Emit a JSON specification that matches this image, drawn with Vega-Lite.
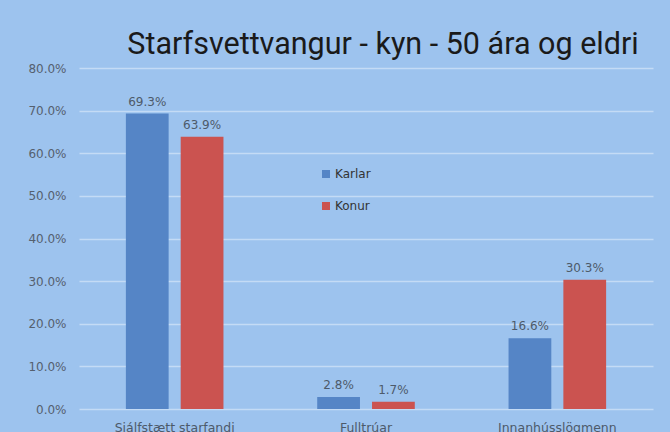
{
  "$schema": "https://vega.github.io/schema/vega-lite/v6.json",
  "width": 574,
  "height": 341,
  "autosize": {"type": "none"},
  "padding": {"left": 79, "top": 68, "right": 17, "bottom": 23},
  "background": "#9DC3EE",
  "title": {
    "text": "Starfsvettvangur - kyn - 50 ára og eldri",
    "font": "Roboto",
    "fontSize": 30.5,
    "fontWeight": "normal",
    "color": "#1a1a1a",
    "anchor": "middle",
    "dx": 17,
    "offset": 2
  },
  "data": {
    "values": [
      {"flokkur": "Sjálfstætt starfandi", "kyn": "Karlar", "hlutfall": 0.693},
      {"flokkur": "Sjálfstætt starfandi", "kyn": "Konur", "hlutfall": 0.639},
      {"flokkur": "Fulltrúar", "kyn": "Karlar", "hlutfall": 0.028},
      {"flokkur": "Fulltrúar", "kyn": "Konur", "hlutfall": 0.017},
      {"flokkur": "Innanhússlögmenn", "kyn": "Karlar", "hlutfall": 0.166},
      {"flokkur": "Innanhússlögmenn", "kyn": "Konur", "hlutfall": 0.303}
    ]
  },
  "encoding": {
    "x": {
      "field": "flokkur",
      "type": "nominal",
      "sort": null,
      "title": null,
      "scale": {"paddingInner": 0.49, "paddingOuter": 0.245},
      "axis": {
        "labelAngle": 0,
        "labelFont": "DejaVu Sans",
        "labelFontSize": 12.5,
        "labelColor": "#4d5a6a",
        "labelPadding": 12,
        "ticks": false,
        "domain": false
      }
    },
    "xOffset": {
      "field": "kyn",
      "type": "nominal",
      "scale": {"paddingInner": 0.22, "paddingOuter": 0}
    },
    "y": {
      "field": "hlutfall",
      "type": "quantitative",
      "title": null,
      "scale": {"domain": [0, 0.8]},
      "axis": {
        "format": ".1%",
        "values": [0, 0.1, 0.2, 0.3, 0.4, 0.5, 0.6, 0.7, 0.8],
        "labelOverlap": false,
        "labelFont": "DejaVu Sans",
        "labelFontSize": 12,
        "labelColor": "#55606e",
        "labelPadding": 13,
        "ticks": false,
        "domain": false,
        "grid": true,
        "gridColor": "#C4DBF5",
        "gridWidth": 1.5
      }
    }
  },
  "layer": [
    {
      "mark": {"type": "bar"},
      "encoding": {
        "color": {
          "field": "kyn",
          "type": "nominal",
          "scale": {"domain": ["Karlar", "Konur"], "range": ["#5585C6", "#CB5350"]},
          "legend": {
            "title": null,
            "orient": "none",
            "legendX": 241,
            "legendY": 100,
            "symbolType": "square",
            "symbolSize": 64,
            "symbolStrokeWidth": 0,
            "labelFont": "DejaVu Sans",
            "labelFontSize": 12,
            "labelColor": "#333333",
            "rowPadding": 20,
            "labelOffset": 3
          }
        }
      }
    },
    {
      "mark": {
        "type": "text",
        "baseline": "bottom",
        "dy": -5,
        "font": "DejaVu Sans",
        "fontSize": 12,
        "color": "#4d5a6a"
      },
      "encoding": {
        "text": {"field": "hlutfall", "type": "quantitative", "format": ".1%"}
      }
    }
  ],
  "config": {"view": {"stroke": null}}
}
